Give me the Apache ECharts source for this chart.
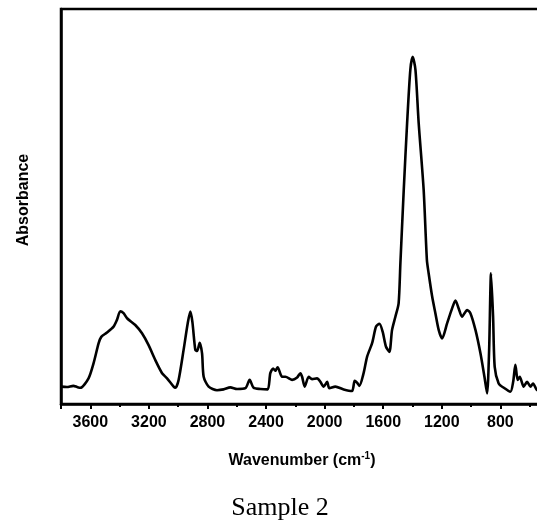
<!DOCTYPE html>
<html>
<head>
<meta charset="utf-8">
<script src="https://cdn.jsdelivr.net/npm/echarts@6/dist/echarts.min.js"></script>
<style>
  html, body { margin: 0; padding: 0; background: #fff; }
  #chart { width: 537px; height: 520px; }
</style>
</head>
<body>
<div id="chart"></div>
<script>
// FTIR spectrum, Sample 2: wavenumber (cm-1) vs absorbance (arbitrary units)
const wavenumbers = [
  3800, 3760, 3716, 3690, 3668, 3612, 3577, 3543, 3525, 3486, 3441, 3418, 3395, 3373, 3349,
  3293, 3247, 3202, 3156, 3110, 3076, 3031, 3019, 2997, 2963, 2935, 2917, 2903, 2883, 2871,
  2853, 2837, 2826, 2792, 2735, 2690, 2644, 2598, 2541, 2512, 2485, 2439, 2389, 2371, 2352,
  2337, 2321, 2291, 2268, 2234, 2222, 2188, 2166, 2154, 2136, 2109, 2086, 2052, 2029, 2007,
  1983, 1968, 1927, 1870, 1813, 1795, 1779, 1763, 1734, 1710, 1676, 1649, 1626, 1604, 1581,
  1558, 1540, 1517, 1495, 1483, 1460, 1437, 1415, 1399, 1380, 1358, 1324, 1302, 1290, 1266,
  1244, 1221, 1198, 1164, 1130, 1107, 1085, 1062, 1027, 1005, 970, 936, 909, 891, 877,
  864, 850, 839, 812, 777, 732, 713, 698, 682, 668, 641, 618, 595, 577, 549, 520
];
const absorbance = [
  0.044, 0.043, 0.046, 0.043, 0.041, 0.065, 0.104, 0.154, 0.170, 0.181, 0.196, 0.213, 0.235, 0.230, 0.217,
  0.200, 0.179, 0.149, 0.111, 0.078, 0.065, 0.044, 0.041, 0.061, 0.137, 0.204, 0.234, 0.208, 0.137, 0.134,
  0.155, 0.128, 0.069, 0.044, 0.035, 0.037, 0.042, 0.038, 0.040, 0.061, 0.041, 0.038, 0.037, 0.078, 0.090,
  0.084, 0.093, 0.069, 0.069, 0.063, 0.061, 0.067, 0.078, 0.069, 0.044, 0.069, 0.063, 0.065, 0.056, 0.044,
  0.056, 0.040, 0.044, 0.037, 0.033, 0.059, 0.054, 0.046, 0.078, 0.120, 0.154, 0.196, 0.203, 0.183, 0.145,
  0.132, 0.187, 0.221, 0.255, 0.355, 0.542, 0.711, 0.846, 0.879, 0.846, 0.711, 0.542, 0.365, 0.331, 0.272,
  0.230, 0.187, 0.166, 0.204, 0.242, 0.262, 0.242, 0.221, 0.238, 0.230, 0.187, 0.128, 0.069, 0.027, 0.137,
  0.331, 0.221, 0.094, 0.052, 0.041, 0.031, 0.056, 0.099, 0.061, 0.069, 0.044, 0.056, 0.044, 0.052, 0.035, 0.040
];
const xTickStep = 400;
const xMin = 400;
const xMax = 3800;

const points = wavenumbers.map((w, i) => [w, absorbance[i]]);

const chart = echarts.init(document.getElementById('chart'), null, { renderer: 'canvas' });
const boldFont = '"Liberation Sans", Arial, sans-serif';

chart.setOption({
  animation: false,
  backgroundColor: '#fff',
  grid: {
    left: 61, top: 9, width: 498, height: 395,
    outerBoundsMode: 'none', containLabel: false,
    show: true, borderColor: '#000', borderWidth: 2.5, backgroundColor: 'transparent'
  },
  xAxis: {
    type: 'value', inverse: true, min: xMin, max: xMax, interval: xTickStep,
    axisLine: { show: true, lineStyle: { color: '#000', width: 2.5 } },
    axisTick: { show: true, inside: false, length: 5, lineStyle: { color: '#000', width: 2 } },
    minorTick: { show: true, splitNumber: 2, length: 3, lineStyle: { color: '#000', width: 2 } },
    splitLine: { show: false },
    axisLabel: {
      margin: 11, color: '#000', fontFamily: boldFont, fontWeight: 'bold', fontSize: 16,
      formatter: v => (v === xMax || v === xMin) ? '' : String(v)
    }
  },
  yAxis: {
    type: 'value', min: 0, max: 1,
    axisLine: { show: true, lineStyle: { color: '#000', width: 2.5 } },
    axisTick: { show: false }, axisLabel: { show: false }, splitLine: { show: false }
  },
  series: [{
    type: 'line',
    data: points,
    showSymbol: false,
    smooth: 0.25,
    lineStyle: { color: '#000', width: 2.6 },
    clip: true
  }],
  graphic: [
    {
      type: 'text', x: 302, y: 461,
      style: {
        text: 'Wavenumber (cm{sup|-1})',
        font: 'bold 16px ' + boldFont, fill: '#000',
        align: 'center', verticalAlign: 'middle',
        rich: { sup: { fontSize: 10, fontWeight: 'bold', fontFamily: boldFont, verticalAlign: 'top', padding: [0, 0, 10, 0] } }
      }
    },
    {
      type: 'text', x: 24, y: 200, rotation: Math.PI / 2,
      style: {
        text: 'Absorbance', font: 'bold 16px ' + boldFont, fill: '#000',
        align: 'center', verticalAlign: 'middle'
      }
    },
    {
      type: 'text', x: 280, y: 508,
      style: {
        text: 'Sample 2', font: '26px "Liberation Serif", "Times New Roman", serif', fill: '#000',
        align: 'center', verticalAlign: 'middle'
      }
    }
  ]
});
</script>
</body>
</html>
